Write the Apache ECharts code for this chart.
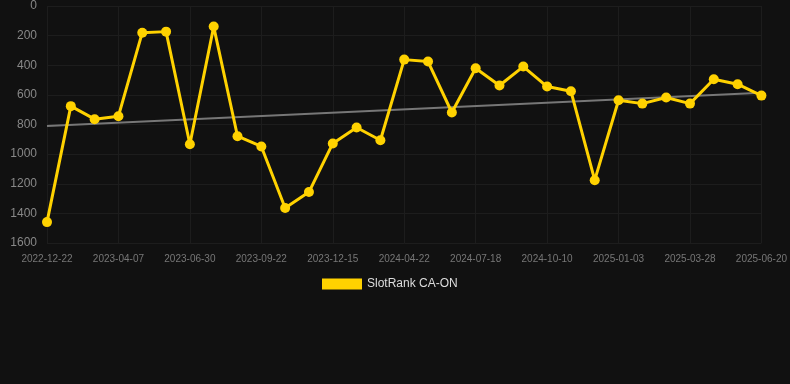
<!DOCTYPE html>
<html>
<head>
<meta charset="utf-8">
<script src="https://cdn.jsdelivr.net/npm/echarts@6/dist/echarts.min.js"></script>
<style>html,body{margin:0;padding:0;background:#111111;}#c{width:790px;height:384px;}</style>
</head>
<body>
<div id="c"></div>
<script>
var categories = ['2022-12-22','2023-02-17','2023-03-10','2023-04-07','2023-05-05','2023-06-02','2023-06-30','2023-07-28','2023-08-25','2023-09-22','2023-10-20','2023-11-17','2023-12-15','2024-01-12','2024-02-09','2024-04-22','2024-05-20','2024-06-20','2024-07-18','2024-08-15','2024-09-12','2024-10-10','2024-11-07','2024-12-05','2025-01-03','2025-01-31','2025-02-28','2025-03-28','2025-04-25','2025-05-23','2025-06-20'];
var rankValues = [1459,676,764,744,180,173,933,139,879,948,1364,1256,928,820,906,362,375,719,420,537,409,544,575,1176,636,659,618,659,495,528,605];
var trendEnds = [810,585];
var yTicks = [0,200,400,600,800,1000,1200,1400,1600];

var trendData = categories.map(function(c,i){
  if(i===0) return trendEnds[0];
  if(i===categories.length-1) return trendEnds[1];
  return null;
});

var chart = echarts.init(document.getElementById('c'));
chart.setOption({
  backgroundColor:'#111111',
  animation:false,
  grid:{left:47,right:28,top:6,bottom:141},
  legend:{
    data:[{name:'SlotRank CA-ON',icon:'rect'}],
    top:273,left:317,itemWidth:40,itemHeight:11,itemGap:10,
    textStyle:{color:'#dddddd',fontSize:12,fontFamily:'Liberation Sans, Arial, sans-serif'}
  },
  xAxis:{
    type:'category',data:categories,boundaryGap:false,
    axisLine:{show:false},axisTick:{show:false},
    axisLabel:{interval:2,color:'#777777',fontSize:10,margin:11,fontFamily:'Liberation Sans, Arial, sans-serif'},
    splitLine:{show:true,interval:2,lineStyle:{color:'#1d1d1d',width:1}}
  },
  yAxis:{
    type:'value',inverse:true,min:yTicks[0],max:yTicks[yTicks.length-1],interval:200,
    axisLine:{show:false},axisTick:{show:false},
    axisLabel:{color:'#888888',fontSize:12,margin:10,fontFamily:'Liberation Sans, Arial, sans-serif',
      formatter:function(v){return String(v);}},
    splitLine:{show:true,lineStyle:{color:'#1d1d1d',width:1}}
  },
  series:[
    {
      name:'trend',type:'line',data:trendData,connectNulls:true,
      symbol:'none',lineStyle:{color:'#777777',width:2},silent:true,z:1
    },
    {
      name:'SlotRank CA-ON',type:'line',data:rankValues,
      symbol:'circle',symbolSize:10,
      itemStyle:{color:'#FFD200'},
      lineStyle:{color:'#FFD200',width:3},z:2
    }
  ]
});
</script>
</body>
</html>
